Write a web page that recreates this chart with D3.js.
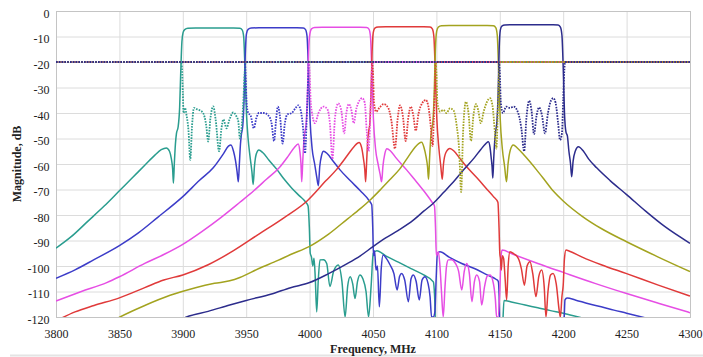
<!DOCTYPE html>
<html>
<head>
<meta charset="utf-8">
<script src="https://cdn.jsdelivr.net/npm/d3@7"></script>
<style>
body { margin: 0; background: #fff; }
text { font-family: "Liberation Serif", "Times New Roman", serif; fill: #222; }
</style>
</head>
<body>
<div id="chart"></div>
<script>
// tick values
var xTicks = [3800, 3850, 3900, 3950, 4000, 4050, 4100, 4150, 4200, 4250, 4300];
var yTicks = [0, -10, -20, -30, -40, -50, -60, -70, -80, -90, -100, -110, -120];

// channel colours: teal, blue, magenta, red, olive, navy
var channelColors = ["#2a9d8f", "#3c3cc8", "#e64ee4", "#e03a3a", "#a3a31f", "#2c2c8c"];

// transmission of each channel, [MHz, dB]
var ch1Thru = [[3800,-93],[3812,-88.5],[3825,-82.5],[3838,-76.5],[3850,-70.5],[3860,-65.5],[3870,-60.5],[3878,-56.5],[3883,-54.4],[3887,-53.7],[3889.5,-55],[3891,-58],[3892,-62],[3892.6,-67.5],[3893.3,-60],[3894.2,-52],[3895,-48],[3896.3,-45.5],[3897.5,-38],[3898.5,-22],[3899.3,-12],[3900.2,-8.5],[3901.5,-7.3],[3904,-6.8],[3910,-6.7],[3940,-6.7],[3945,-6.8],[3946.8,-7.4],[3948,-10],[3949,-22],[3950.2,-40],[3951.5,-50],[3953,-57],[3954.5,-63],[3955.5,-68],[3956.5,-61],[3958,-56],[3960,-54.5],[3963,-55.5],[3968,-58.5],[3974,-62],[3980,-66],[3986,-69.5],[3992,-72.5],[3997,-75],[3998.8,-76.5],[3999.8,-85],[4000.5,-95],[4001.5,-96.5],[4002.5,-100],[4003.5,-97],[4004.5,-105],[4005.6,-118],[4006.8,-106],[4008.2,-97.6],[4011,-97.5],[4013.5,-99],[4016,-108],[4019,-102],[4022.6,-99.6],[4025.5,-106],[4028,-120],[4030,-108],[4032,-104.2],[4034,-107],[4035.8,-112.7],[4037.8,-106],[4039.7,-103.5],[4042,-105],[4044.5,-110],[4046.5,-120],[4048.5,-108],[4050.2,-95],[4053,-94],[4060,-96],[4070,-98.5],[4080,-101],[4090,-103.5],[4097.6,-106.2],[4098.6,-112],[4099.5,-125],[4152,-125],[4153.3,-113.5],[4160,-114.2],[4170,-115.3],[4180,-116.4],[4190,-117.5],[4200,-118.5],[4212,-120],[4220,-121]];

var ch2Thru = [[3800,-104.8],[3815,-101.5],[3830,-97.5],[3850,-92],[3865,-87],[3880,-81],[3900,-72.8],[3913,-66.5],[3924,-61.5],[3932,-56],[3936,-53],[3938,-52.5],[3940,-55],[3941.5,-58.5],[3942.8,-63],[3943.8,-67],[3944.6,-60],[3945.5,-52],[3946.2,-48.5],[3947.3,-45],[3948.3,-35],[3949.2,-18],[3950.2,-9],[3951.5,-7.2],[3954,-6.7],[3960,-6.6],[3990,-6.6],[3995,-6.7],[3996.8,-7.3],[3998,-10],[3999,-22],[4000.3,-42],[4002,-54],[4004,-60],[4005.6,-65],[4006.9,-68.5],[4008,-61],[4009.5,-56.5],[4011,-55],[4014,-56],[4018,-58.5],[4024,-62.3],[4032,-66.5],[4040,-70.5],[4047.6,-74.8],[4049,-76],[4049.8,-85],[4050.4,-96],[4051.2,-94],[4052.4,-101.6],[4053.5,-100],[4055,-116],[4056.5,-101],[4058,-95.7],[4060.5,-97],[4063.4,-99.5],[4066.5,-103],[4069,-109.4],[4071,-104],[4072.6,-102.9],[4075,-105.5],[4077.9,-114],[4080,-105],[4081.8,-103.5],[4084,-106],[4086.5,-113.3],[4088.7,-105.5],[4091,-104.2],[4093.5,-107],[4095,-112],[4096.2,-120],[4097.5,-120],[4098.8,-118],[4099.8,-105],[4100.8,-95],[4102.8,-94.4],[4110,-96.5],[4120,-99],[4130,-101],[4140,-103.5],[4147,-105.2],[4148.8,-106],[4149.5,-112],[4150,-125],[4200,-125],[4200.8,-120],[4201.4,-113.3],[4203,-112.5],[4210,-113.4],[4220,-114.8],[4230,-116],[4240,-117.3],[4250,-118.5],[4262,-120],[4270,-121]];

var ch3Thru = [[3800,-113.7],[3820,-110],[3840,-106.5],[3850,-104.2],[3870,-99],[3885,-95.5],[3900,-91.5],[3915,-86.5],[3930,-81],[3945,-75],[3956,-70.5],[3966,-66],[3976,-61.5],[3983,-57],[3988,-53.5],[3991,-52.2],[3992.3,-55],[3993.2,-60],[3993.8,-67],[3994.6,-59],[3995.5,-51],[3996.3,-47.5],[3997.3,-44],[3998.3,-33],[3999.2,-16],[4000.2,-9],[4001.5,-7],[4004,-6.5],[4010,-6.4],[4040,-6.4],[4045,-6.5],[4046.8,-7.1],[4048,-10],[4049,-22],[4050.3,-42],[4052,-54],[4054,-60],[4055.6,-64],[4056.8,-67],[4057.8,-61],[4059.3,-56],[4061,-54],[4064,-55],[4068,-57.5],[4076.5,-62.3],[4082,-65.6],[4090,-70.5],[4096.3,-74.8],[4098.5,-76.5],[4099.3,-85],[4100,-96],[4101.5,-94.4],[4102.8,-100],[4104,-110],[4105.4,-120],[4106.8,-108],[4108,-100],[4109.4,-97.6],[4112,-97.5],[4115,-99],[4117.5,-102],[4120,-109.4],[4122,-102],[4124,-99],[4126,-103],[4128,-114],[4130,-106],[4131.8,-103.5],[4134,-106],[4135.7,-115.3],[4138,-108],[4140,-104],[4142.3,-103.5],[4145,-107],[4146.5,-113],[4147.5,-120],[4148.5,-120],[4150,-110],[4151,-96],[4151.8,-93.7],[4160,-95.3],[4180,-99],[4200,-102.5],[4225,-106.8],[4250,-110.8],[4275,-114.6],[4300,-118.3]];

var ch4Thru = [[3800,-121.5],[3815,-118],[3830,-115.5],[3850,-112.5],[3870,-108.5],[3885,-105.5],[3900,-103.5],[3920,-99.5],[3940,-94],[3960,-87.5],[3980,-81],[3998,-74.5],[4013,-66.5],[4021,-62.3],[4030,-56.5],[4035,-53.2],[4039,-51.6],[4041,-53.5],[4042.5,-58],[4043.5,-62],[4044.2,-67],[4045,-59],[4045.8,-51],[4046.5,-47.5],[4047.5,-44],[4048.4,-33],[4049.3,-16],[4050.2,-8.5],[4051.5,-6.7],[4054,-6.3],[4060,-6.2],[4090,-6.2],[4095,-6.3],[4096.8,-7],[4098,-10],[4099,-22],[4100.3,-42],[4102,-54],[4103.5,-61],[4104.6,-66],[4105.6,-60],[4107.5,-55.5],[4110.7,-53.9],[4114,-55],[4118,-57.5],[4122,-60],[4126,-62.3],[4133,-66],[4140,-70],[4145,-72.8],[4148.5,-75],[4149.4,-85],[4150,-95],[4150.5,-97],[4151.2,-101.6],[4152,-96],[4153,-97],[4154.2,-105],[4155.4,-113.3],[4156.6,-100],[4158,-94.4],[4161,-95.2],[4164.6,-97],[4167,-101],[4169.4,-107.5],[4171.5,-100],[4173.8,-98.3],[4176,-103],[4178.5,-112],[4180.8,-104],[4183,-101.6],[4185,-108],[4186.4,-120],[4188,-110],[4190,-103.5],[4192,-102.9],[4194.5,-107],[4197,-118],[4197.8,-120],[4199,-112],[4200,-107.5],[4201,-97],[4202.2,-93.7],[4205,-94.2],[4215,-96.5],[4230,-99.5],[4250,-103],[4275,-107.5],[4300,-111.8]];

var ch5Thru = [[3845,-121.5],[3850.5,-120],[3870,-115.5],[3890,-111.5],[3910,-108.5],[3925,-106.8],[3937,-105.8],[3945,-104.5],[3960,-101],[3975,-97.8],[3985,-95.5],[4000,-92.3],[4015,-87.5],[4030,-81.5],[4040,-77.5],[4048,-74],[4056,-70],[4063,-66.3],[4071,-62],[4078,-57],[4083,-53.5],[4086,-52],[4088.4,-51.5],[4090.2,-53.5],[4091.8,-57],[4093,-61],[4093.8,-66],[4094.6,-58],[4095.5,-50],[4096.3,-46.5],[4097.3,-43],[4098.3,-32],[4099.2,-15],[4100.2,-8],[4101.5,-6.3],[4104,-5.8],[4110,-5.7],[4140,-5.7],[4145,-5.8],[4146.8,-6.5],[4148,-9.5],[4149,-22],[4150.3,-42],[4152,-54],[4153.8,-61],[4155.3,-67],[4156.5,-60],[4158.3,-54.5],[4160.6,-52.5],[4164,-53.8],[4170,-57],[4179,-62.3],[4184.3,-65.6],[4192,-70.5],[4200,-74.5],[4215,-80.5],[4230,-85.3],[4250,-90.5],[4275,-96.5],[4300,-102.2]];

var ch6Thru = [[3895,-122],[3903,-120],[3920,-117.8],[3937,-115.3],[3950,-113.5],[3970,-111],[3985,-108.5],[4000,-106.5],[4015,-103],[4030,-99],[4040,-96],[4050,-92.4],[4060,-89],[4070,-86],[4081.8,-82],[4090,-78.5],[4097.6,-75.4],[4106,-71],[4114.7,-66.3],[4122,-62],[4130,-57.5],[4135,-54.3],[4139,-52],[4141,-51.3],[4142.3,-53.5],[4143.2,-57.5],[4143.9,-61],[4144.5,-65.5],[4145.2,-58],[4146,-51],[4146.8,-47],[4147.8,-43],[4148.7,-32],[4149.5,-15],[4150.4,-7.5],[4151.6,-5.9],[4154,-5.5],[4160,-5.4],[4192,-5.4],[4196,-5.5],[4197.8,-6.3],[4199,-9.5],[4200,-22],[4201,-40],[4202.2,-47.5],[4203.3,-49],[4204.5,-55],[4205.8,-60],[4206.7,-65],[4207.8,-59],[4209.5,-55],[4212,-53.2],[4216,-55],[4220,-58],[4226.4,-61.5],[4237,-66.5],[4250,-72],[4265,-78.5],[4280,-84.5],[4300,-91.1]];

// return loss of each channel (dotted)
var ch1Refl = [[3800,-20],[3898.5,-20],[3899.3,-22],[3900,-32],[3900.6,-40],[3901.7,-38],[3903,-41],[3904.5,-47],[3905.9,-58.4],[3907.3,-45],[3908.8,-38],[3911,-38.5],[3913.6,-39],[3916,-40],[3918.5,-45],[3920,-51.2],[3921.8,-42],[3924,-37.4],[3926,-43],[3928.6,-55],[3930.5,-46],[3932,-42.5],[3934.5,-46],[3936.5,-43],[3939.8,-39.8],[3942,-41],[3943.8,-43.4],[3945,-50],[3946.5,-45],[3947.8,-35],[3948.8,-24],[3949.5,-20],[4300,-20]];
var ch2Refl = [[3800,-20],[3948.8,-20],[3949.5,-24],[3950.3,-36],[3951.6,-40],[3953.5,-41],[3956,-46],[3958,-42],[3960,-40],[3964,-40],[3967.5,-41],[3970,-44],[3972,-51],[3973.5,-43],[3975,-37.5],[3976.8,-42],[3978.7,-52],[3980.5,-44],[3982.5,-40.5],[3986,-40],[3989,-38],[3991,-37],[3993,-39],[3995,-46.7],[3996.4,-55.8],[3997.6,-44],[3998.6,-30],[3999.4,-21],[4000.2,-20],[4300,-20]];
var ch3Refl = [[3800,-20],[3999.3,-20],[4000,-24],[4000.8,-35],[4001.6,-39],[4004.3,-44],[4007,-40],[4011,-37.5],[4014,-38.5],[4016,-44],[4018,-58],[4020,-42],[4022.6,-36.2],[4025,-39],[4027.3,-48],[4029,-40],[4031,-36.5],[4033,-39],[4034.8,-44],[4037,-38],[4041.5,-34.2],[4043.5,-36],[4045,-46.7],[4046.5,-55],[4047.6,-45],[4048.6,-30],[4049.4,-21],[4050.2,-20],[4300,-20]];
var ch4Refl = [[3800,-20],[4049.3,-20],[4050,-24],[4050.8,-36],[4052.5,-39.5],[4055,-38],[4058.5,-36.5],[4062,-38],[4064.5,-43],[4067.3,-54],[4069.5,-42],[4071.3,-37],[4073.5,-41],[4075.8,-51],[4077.8,-42],[4079.8,-37.5],[4081.8,-41],[4083.7,-47],[4086,-40],[4089,-36],[4091.6,-34.9],[4093.5,-37],[4095.5,-45],[4097,-53],[4098,-42],[4098.8,-30],[4099.5,-21],[4100.2,-20],[4300,-20]];
var ch5Refl = [[3800,-20],[4099.3,-20],[4100,-24],[4100.8,-36],[4103,-39.5],[4105.4,-38.8],[4108,-40],[4110.7,-38.2],[4113.5,-39],[4116,-45],[4118,-55],[4119.5,-71],[4121,-48],[4123.3,-35.6],[4125.3,-40],[4127.3,-51],[4129.2,-41],[4131.2,-36.5],[4133,-39],[4135,-44],[4137.5,-39],[4142.3,-34.2],[4144.2,-37],[4146.2,-48],[4147.3,-54],[4148.3,-42],[4149,-30],[4149.6,-21],[4150.3,-20],[4300,-20]];
var ch6Refl = [[3800,-20],[4149.3,-20],[4150,-24],[4150.8,-36],[4152.5,-40],[4155,-37.5],[4158,-38],[4161,-37.5],[4164.5,-40],[4167,-46],[4169.2,-55],[4171,-42],[4173.2,-35.2],[4175,-39],[4177,-48.3],[4179,-41],[4181,-37.8],[4183.3,-41],[4185.6,-48],[4188,-40],[4190.5,-35],[4192.2,-34.2],[4194,-36],[4196,-44],[4197.5,-50.6],[4199,-48],[4200,-35],[4200.8,-24],[4201.5,-20],[4300,-20]];

var thruCurves = [ch1Thru, ch2Thru, ch3Thru, ch4Thru, ch5Thru, ch6Thru];
var reflCurves = [ch1Refl, ch2Refl, ch3Refl, ch4Refl, ch5Refl, ch6Refl];

var svgWidth = 703;
var svgHeight = 357;
var plotLeft = 56, plotRight = 690, plotTop = 11, plotBottom = 317;

var svg = d3.select("#chart").append("svg").attr("width", svgWidth).attr("height", svgHeight);

var x = d3.scaleLinear().domain([3800, 4300]).range([plotLeft, plotRight]);
var y = d3.scaleLinear().domain([0, -120]).range([plotTop, plotBottom]);

// faint frame line under the chart
svg.append("line")
    .attr("x1", 10).attr("x2", svgWidth).attr("y1", 355.5).attr("y2", 355.5)
    .attr("stroke", "#e4e4e4").attr("stroke-width", 2);

// grid
svg.append("g")
    .selectAll("line.hgrid")
    .data(yTicks)
    .enter().append("line")
    .attr("class", "hgrid")
    .attr("x1", plotLeft).attr("x2", plotRight)
    .attr("y1", d => y(d) + 0.5).attr("y2", d => y(d) + 0.5)
    .attr("stroke", "#dcdcdc");

svg.append("g")
    .selectAll("line.vgrid")
    .data(xTicks)
    .enter().append("line")
    .attr("class", "vgrid")
    .attr("y1", plotTop).attr("y2", plotBottom)
    .attr("x1", d => x(d) + 0.5).attr("x2", d => x(d) + 0.5)
    .attr("stroke", "#dcdcdc");

svg.append("rect")
    .attr("x", plotLeft + 0.5).attr("y", plotTop + 0.5)
    .attr("width", plotRight - plotLeft).attr("height", plotBottom - plotTop)
    .attr("fill", "none").attr("stroke", "#c4c4c4");

// axes (labels only)
var xAxis = svg.append("g")
    .attr("transform", "translate(0," + plotBottom + ")")
    .call(d3.axisBottom(x).tickValues(xTicks).tickSize(0).tickPadding(12).tickFormat(d3.format("d")));
var yAxis = svg.append("g")
    .attr("transform", "translate(" + plotLeft + ",0)")
    .call(d3.axisLeft(y).tickValues(yTicks).tickSize(0).tickPadding(6.5).tickFormat(d => d));

[xAxis, yAxis].forEach(function(a) {
    a.select(".domain").remove();
    a.selectAll("text")
        .attr("font-family", '"Liberation Serif", "Times New Roman", serif')
        .attr("font-size", 12)
        .attr("fill", "#222");
});
yAxis.selectAll("text").attr("dy", "0.5em");

svg.append("text")
    .attr("x", 373).attr("y", 353)
    .attr("text-anchor", "middle")
    .attr("font-size", 12).attr("font-weight", "bold")
    .text("Frequency, MHz");

svg.append("text")
    .attr("transform", "translate(21,164) rotate(-90)")
    .attr("text-anchor", "middle")
    .attr("font-size", 12).attr("font-weight", "bold")
    .text("Magnitude, dB");

// curves
svg.append("clipPath").attr("id", "plotclip")
    .append("rect")
    .attr("x", plotLeft).attr("y", plotTop)
    .attr("width", plotRight - plotLeft).attr("height", plotBottom - plotTop);

var line = d3.line()
    .x(d => x(d[0]))
    .y(d => y(d[1]))
    .curve(d3.curveMonotoneX);

var plot = svg.append("g").attr("clip-path", "url(#plotclip)");

plot.selectAll("path.thru")
    .data(thruCurves)
    .enter().append("path")
    .attr("class", "thru")
    .attr("fill", "none")
    .attr("stroke", (d, i) => channelColors[i])
    .attr("stroke-width", 1.5)
    .attr("stroke-linejoin", "round")
    .attr("d", line);

plot.selectAll("path.refl")
    .data(reflCurves)
    .enter().append("path")
    .attr("class", "refl")
    .attr("fill", "none")
    .attr("stroke", (d, i) => channelColors[i])
    .attr("stroke-width", 1.8)
    .attr("stroke-dasharray", "1.6,1.2")
    .attr("d", line);
</script>
</body>
</html>
